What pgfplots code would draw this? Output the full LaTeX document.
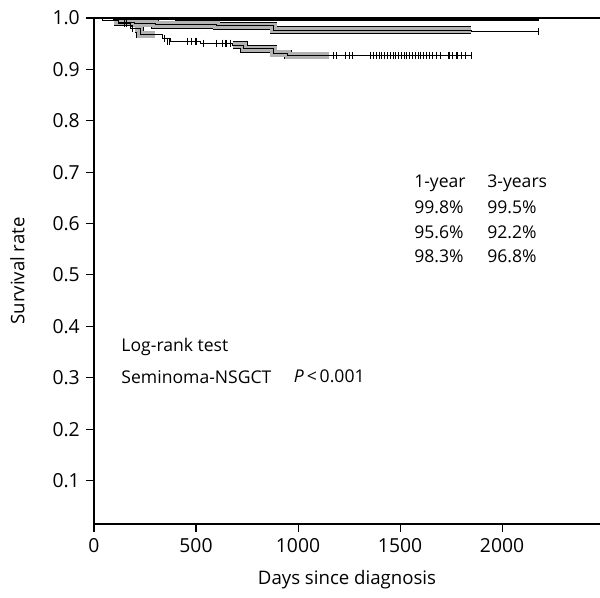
\documentclass[border=0pt]{standalone}
\usepackage{fontspec}
\setmainfont{Open Sans}
\usepackage{pgfplots}
\pgfplotsset{compat=1.18}

\begin{document}
\begin{tikzpicture}[font=\fontsize{10}{12}\selectfont]
\path[use as bounding box] (-1.88cm,-1.48cm) rectangle (10.12cm,10.48cm);
\begin{axis}[
    scale only axis,
    width=10.12cm, height=10.12cm,
    xmin=0, xmax=2480,
    ymin=0.0155, ymax=1.0,
    axis lines=left,
    axis line style={-, line width=0.6pt},
    tick align=outside,
    major tick length=0.16cm,
    tick style={black, line width=0.6pt},
    xtick={0,500,1000,1500,2000},
    ytick={0.1,0.2,0.3,0.4,0.5,0.6,0.7,0.8,0.9,1.0},
    /pgf/number format/assume math mode=true,
    /pgf/number format/1000 sep={},
    ticklabel style={font=\fontsize{11}{13}\selectfont},
    yticklabel style={/pgf/number format/fixed, /pgf/number format/fixed zerofill,
        /pgf/number format/precision=1},
    xlabel={Days since diagnosis},
    ylabel={Survival rate},
    label style={font=\fontsize{10.6}{12}\selectfont},
    xlabel style={at={(axis description cs:0.5,-0.08)}, anchor=north},
    ylabel style={at={(axis description cs:-0.125,0.5)}, anchor=south},
    clip=false,
]
% NSGCT: dense censoring bands
\addplot[const plot, black, line width=4.4pt] coordinates {(680,0.947) (735,0.940) (880,0.931) (950,0.927) (1150,0.927)};
\addplot[const plot, gray!60, line width=3.6pt] coordinates {(680,0.947) (735,0.940) (880,0.931) (950,0.927) (1150,0.927)};
\addplot[const plot, black, line width=4.4pt] coordinates {(200,0.979) (226,0.968) (300,0.968)};
\addplot[const plot, gray!60, line width=3.6pt] coordinates {(200,0.979) (226,0.968) (300,0.968)};
% overall: dense censoring band
\addplot[const plot, black, line width=4.4pt] coordinates {(100,0.992) (120,0.992) (200,0.989) (300,0.987) (600,0.985) (880,0.976) (1850,0.976)};
\addplot[const plot, gray!60, line width=3.6pt] coordinates {(100,0.992) (120,0.992) (200,0.989) (300,0.987) (600,0.985) (880,0.976) (1850,0.976)};
% NSGCT curve
\addplot[const plot, black, line width=0.6pt] coordinates {
    (0,1.0) (40,0.996) (120,0.990) (177,0.979) (226,0.968) (334,0.960) (373,0.955)
    (520,0.951) (680,0.947) (735,0.940) (880,0.931) (950,0.927) (1850,0.927)};
% NSGCT censor marks
\addplot[only marks, mark=|, mark size=2pt, mark options={line width=0.6pt}] coordinates {
    (150,0.990) (160,0.990) (190,0.979) (345,0.960) (360,0.955) (370,0.955)
    (460,0.955) (480,0.955) (500,0.955) (535,0.951) (600,0.951) (628,0.951) (647,0.951) (668,0.951)
    (1173,0.927) (1189,0.927) (1233,0.927) (1253,0.927) (1266,0.927)
    (1356,0.927) (1370,0.927) (1385,0.927) (1398,0.927) (1410,0.927) (1425,0.927) (1440,0.927)
    (1452,0.927) (1466,0.927) (1480,0.927) (1492,0.927) (1505,0.927) (1520,0.927) (1533,0.927)
    (1546,0.927) (1560,0.927) (1575,0.927) (1590,0.927) (1600,0.927) (1615,0.927) (1630,0.927)
    (1645,0.927) (1660,0.927) (1680,0.927) (1700,0.927)
    (1740,0.927) (1759,0.927) (1779,0.927) (1803,0.927) (1823,0.927) (1850,0.927)};
% overall curve
\addplot[const plot, black, line width=0.6pt] coordinates {
    (0,1.0) (40,0.996) (120,0.992) (200,0.989) (300,0.987) (600,0.985) (880,0.976)
    (1850,0.973) (2180,0.973)};
\addplot[only marks, mark=|, mark size=2pt, mark options={line width=0.6pt}] coordinates {(2180,0.973)};
% seminoma curve
\addplot[const plot, black, line width=1.2pt] coordinates {
    (0,1.0) (100,0.998) (400,0.997) (900,0.996) (2180,0.996)};
% top frame line
\draw[line width=0.6pt] (rel axis cs:0,1) -- (rel axis cs:1,1);
% annotations
\begin{scope}[every node/.style={anchor=west, inner sep=0pt}]
\node at (axis cs:1568,0.679) {1-year};
\node at (axis cs:1926,0.679) {3-years};
\node at (axis cs:1568,0.631) {99.8\%};
\node at (axis cs:1926,0.631) {99.5\%};
\node at (axis cs:1568,0.584) {95.6\%};
\node at (axis cs:1926,0.584) {92.2\%};
\node at (axis cs:1568,0.537) {98.3\%};
\node at (axis cs:1926,0.537) {96.8\%};
\node at (axis cs:133,0.360) {Log-rank test};
\node at (axis cs:133,0.302) {Seminoma-NSGCT};
\node at (axis cs:978,0.302) {\textit{P}\,<\,0.001};
\end{scope}
\end{axis}
\end{tikzpicture}
\end{document}
